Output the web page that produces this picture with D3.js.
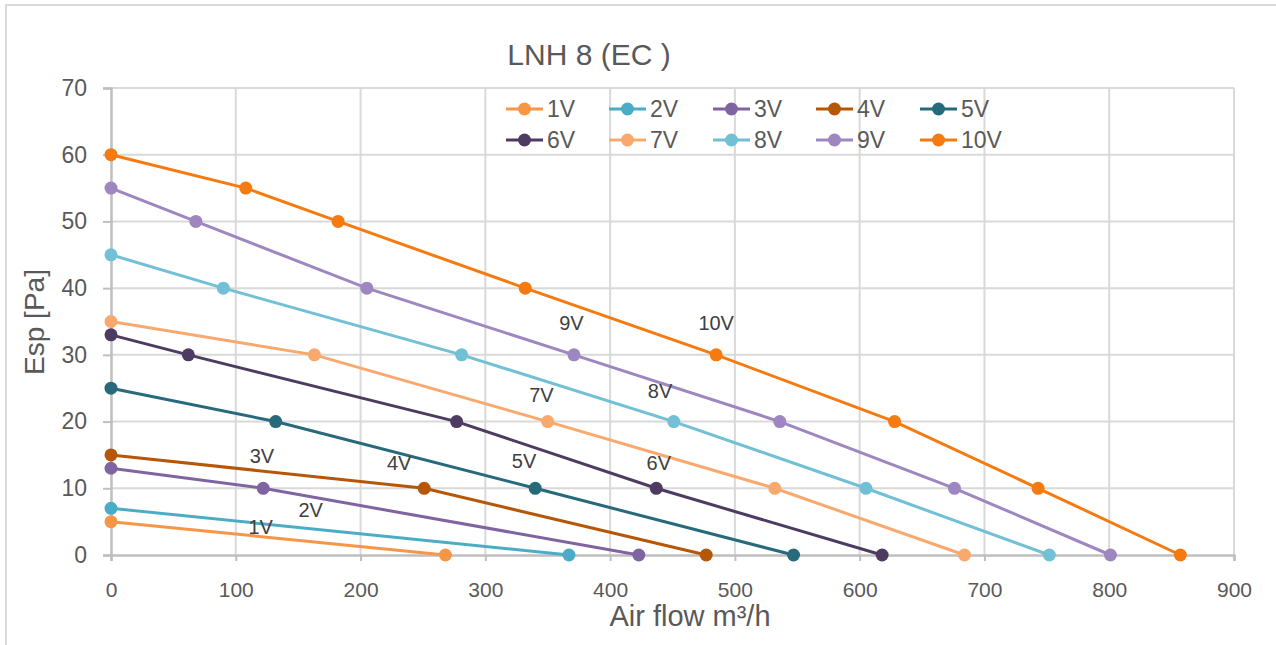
<!DOCTYPE html>
<html><head><meta charset="utf-8">
<script src="https://cdn.jsdelivr.net/npm/d3@7"></script>
<style>body{margin:0;background:#fff}svg{display:block}text{font-family:"Liberation Sans",Arial,sans-serif}</style>
</head><body>
<svg id="c" width="1276" height="645"></svg>
<script>
const seriesNames = ["1V","2V","3V","4V","5V","6V","7V","8V","9V","10V"];
const colors = ["#F79646","#4BACC6","#8064A2","#B65708","#276A7C","#4D3B62","#F9A96E","#71C0D5","#9E86C0","#F57A10"];
const s1V = [[0,5],[268,0]];
const s2V = [[0,7],[367,0]];
const s3V = [[0,13],[122,10],[423,0]];
const s4V = [[0,15],[251,10],[477,0]];
const s5V = [[0,25],[132,20],[340,10],[547,0]];
const s6V = [[0,33],[62,30],[277,20],[437,10],[618,0]];
const s7V = [[0,35],[163,30],[350,20],[532,10],[684,0]];
const s8V = [[0,45],[90,40],[281,30],[451,20],[605,10],[752,0]];
const s9V = [[0,55],[68,50],[205,40],[371,30],[536,20],[676,10],[801,0]];
const s10V = [[0,60],[108,55],[182,50],[332,40],[485,30],[628,20],[743,10],[857,0]];
const seriesData = [s1V,s2V,s3V,s4V,s5V,s6V,s7V,s8V,s9V,s10V];
const labelPos = [[120,4.2],[160,6.7],[121,14.8],[231,13.8],[331,14.1],[439,13.8],[345,24],[440,24.6],[369,34.8],[485,34.8]];
const xTicks = [0,100,200,300,400,500,600,700,800,900];
const yTicks = [0,10,20,30,40,50,60,70];

const svg = d3.select("#c");
const x = d3.scaleLinear().domain([0,900]).range([111,1234]);
const y = d3.scaleLinear().domain([0,70]).range([555,88]);

svg.append("rect").attr("x",6).attr("y",5).attr("width",1300).attr("height",700)
  .attr("fill","none").attr("stroke","#D9D9D9").attr("stroke-width",2);

// grid
svg.append("g").selectAll("line").data(yTicks.filter(d=>d>0)).join("line")
  .attr("x1",x(0)).attr("x2",x(900)).attr("y1",d=>y(d)).attr("y2",d=>y(d))
  .attr("stroke","#D9D9D9").attr("stroke-width",2);
svg.append("g").selectAll("line").data(xTicks.filter(d=>d>0)).join("line")
  .attr("x1",d=>x(d)).attr("x2",d=>x(d)).attr("y1",y(0)).attr("y2",y(70))
  .attr("stroke","#D9D9D9").attr("stroke-width",2);

// axes
const yAxis = d3.axisLeft(y).tickValues(yTicks).tickSize(8).tickPadding(16);
const gy = svg.append("g").attr("transform",`translate(${x(0)},0)`).call(yAxis);
const xAxis = d3.axisBottom(x).tickValues(xTicks).tickSize(6).tickPadding(21);
const gx = svg.append("g").attr("transform",`translate(0,${y(0)})`).call(xAxis);
[gx,gy].forEach(g=>{
  g.select(".domain").attr("stroke","#BFBFBF").attr("stroke-width",2.5);
  g.selectAll(".tick line").attr("stroke","#BFBFBF").attr("stroke-width",2);
  g.selectAll(".tick text").attr("fill","#595959");
});
gx.selectAll(".tick text").style("font-size","21px").style("font-family","Liberation Sans Narrow, Liberation Sans, sans-serif");
gy.selectAll(".tick text").style("font-size","23px").style("font-family","Liberation Sans, sans-serif");

// lines
const line = d3.line().x(d=>x(d[0])).y(d=>y(d[1]));
seriesData.forEach((data,i)=>{
  const g = svg.append("g");
  g.append("path").datum(data).attr("d",line).attr("fill","none")
    .attr("stroke",colors[i]).attr("stroke-width",3);
  g.selectAll("circle").data(data).join("circle")
    .attr("cx",d=>x(d[0])).attr("cy",d=>y(d[1])).attr("r",6.5).attr("fill",colors[i]);
});

// data labels
svg.append("g").selectAll("text").data(seriesNames).join("text")
  .attr("x",(d,i)=>x(labelPos[i][0])).attr("y",(d,i)=>y(labelPos[i][1]))
  .attr("text-anchor","middle").attr("dominant-baseline","central")
  .attr("fill","#404040").style("font-size","20px").text(d=>d);

// legend
const legX = [506,609,713,816,920], legY=[109,140];
const leg = svg.append("g").selectAll("g").data(seriesNames).join("g")
  .attr("transform",(d,i)=>`translate(${legX[i%5]},${legY[Math.floor(i/5)]})`);
leg.append("line").attr("x1",0).attr("x2",37).attr("stroke",(d,i)=>colors[i]).attr("stroke-width",3);
leg.append("circle").attr("cx",18.5).attr("r",6.5).attr("fill",(d,i)=>colors[i]);
leg.append("text").attr("x",41).attr("dominant-baseline","central").attr("fill","#595959")
  .style("font-size","23px").style("font-family","Liberation Sans Narrow, Liberation Sans, sans-serif").text(d=>d);

// titles
svg.append("text").attr("x",589).attr("y",54).attr("text-anchor","middle").attr("dominant-baseline","central")
  .attr("fill","#595959").style("font-size","30px").text("LNH 8 (EC )");
svg.append("text").attr("transform","translate(34,322) rotate(-90)").attr("text-anchor","middle").attr("dominant-baseline","central")
  .attr("fill","#595959").style("font-size","28px").text("Esp [Pa]");
svg.append("text").attr("x",690).attr("y",616).attr("text-anchor","middle").attr("dominant-baseline","central")
  .attr("fill","#595959").style("font-size","29px").text("Air flow m³/h");
</script>
</body></html>
